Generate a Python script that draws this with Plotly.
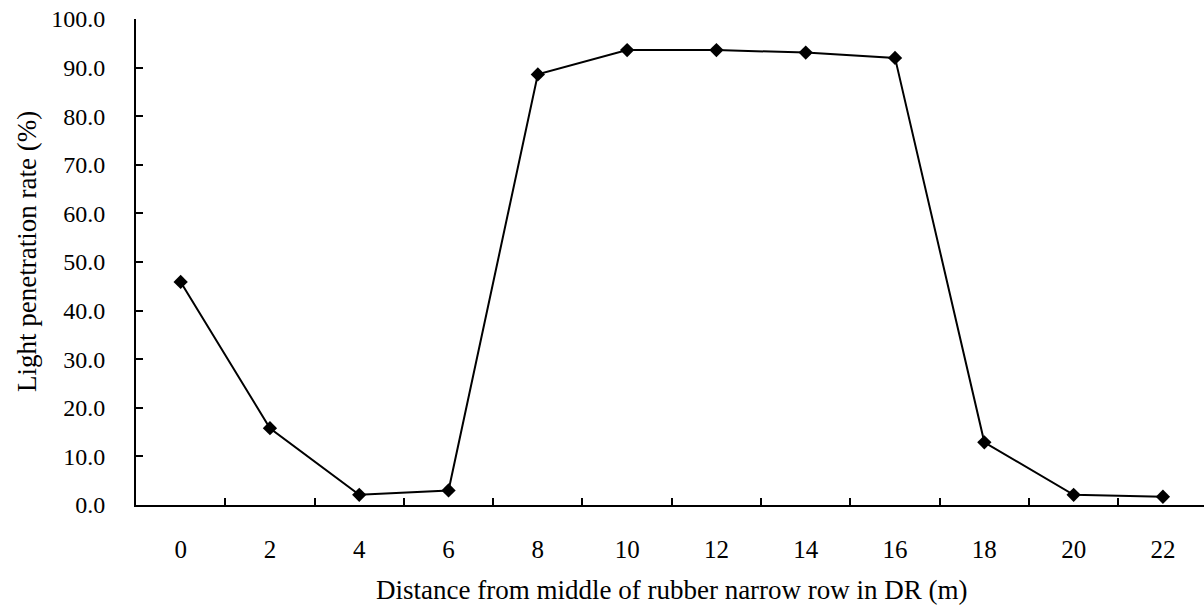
import plotly.graph_objects as go

distance = ["0", "2", "4", "6", "8", "10", "12", "14", "16", "18", "20", "22"]
light_rate = [45.9, 15.8, 2.1, 3.0, 88.6, 93.6, 93.6, 93.1, 92.0, 12.9, 2.1, 1.7]
y_ticks = [0, 10, 20, 30, 40, 50, 60, 70, 80, 90, 100]

FONT = "Liberation Serif, Times New Roman, serif"

fig = go.Figure()
fig.add_trace(go.Scatter(
    x=distance, y=light_rate, mode="lines+markers",
    line=dict(color="black", width=2),
    marker=dict(symbol="diamond", size=11, color="black"),
    showlegend=False,
))

fig.update_layout(
    width=1204, height=607,
    margin=dict(l=136, r=0, t=19, b=102),
    plot_bgcolor="white", paper_bgcolor="white",
    font=dict(family=FONT, size=24, color="black"),
    xaxis=dict(
        type="category", range=[-0.5, 11.46],
        tickson="boundaries", ticks="inside", ticklen=7, tickwidth=2, tickcolor="black",
        showline=True, linecolor="black", linewidth=2,
        showgrid=False, zeroline=False,
        tickfont=dict(size=25),
        ticklabelstandoff=21,
    ),
    yaxis=dict(
        range=[0, 100], tickvals=y_ticks, tickformat=".1f",
        ticks="inside", ticklen=7, tickwidth=2, tickcolor="black",
        showline=True, linecolor="black", linewidth=2,
        showgrid=False, zeroline=False,
        tickfont=dict(size=24),
        ticklabelstandoff=24,
    ),
    annotations=[
        dict(text="Distance from middle of rubber narrow row in DR (m)",
             xref="paper", yref="paper", x=0.5, y=0, yshift=-85, xshift=2,
             showarrow=False, xanchor="center", yanchor="middle",
             font=dict(family=FONT, size=27)),
        dict(text="Light penetration rate (%)",
             xref="paper", yref="paper", x=0, y=0.5, xshift=-109, yshift=10,
             showarrow=False, xanchor="center", yanchor="middle", textangle=-90,
             font=dict(family=FONT, size=27)),
    ],
)

fig.write_html("out.html")
